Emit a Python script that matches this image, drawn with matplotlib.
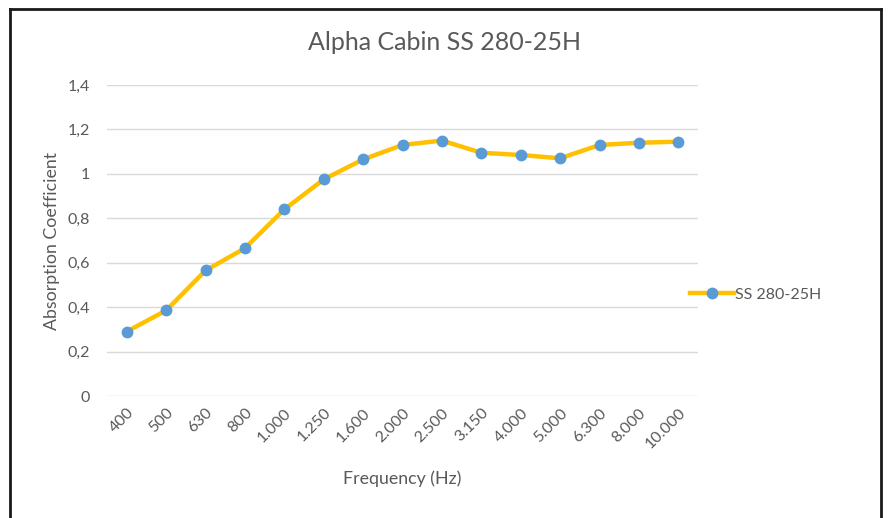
import matplotlib.pyplot as plt
from matplotlib.lines import Line2D
from matplotlib.ticker import FuncFormatter

# data
frequencies = ["400", "500", "630", "800", "1.000", "1.250", "1.600", "2.000",
               "2.500", "3.150", "4.000", "5.000", "6.300", "8.000", "10.000"]
absorption = [0.29, 0.385, 0.565, 0.665, 0.84, 0.975, 1.065, 1.13,
              1.15, 1.095, 1.085, 1.07, 1.13, 1.14, 1.145]
y_ticks = [0, 0.2, 0.4, 0.6, 0.8, 1.0, 1.2, 1.4]
series_name = "SS 280-25H"

plt.rcParams['font.family'] = ['Lato', 'DejaVu Sans']
text_grey = '#595959'

W, H = 889, 518
fig = plt.figure(figsize=(W / 100, H / 100), dpi=100)
ax = fig.add_axes([107 / W, 1 - 396 / H, (698 - 107) / W, (396 - 85) / H])

x = list(range(len(frequencies)))
ax.plot(x, absorption, color='#FFC000', linewidth=3.2, marker='o',
        markersize=7.5, markerfacecolor='#5B9BD5', markeredgecolor='#5B9BD5',
        solid_capstyle='round', zorder=3)

ax.set_xlim(-0.5, len(frequencies) - 0.5)
ax.set_ylim(0, 1.4)
ax.set_yticks(y_ticks)
ax.yaxis.set_major_formatter(FuncFormatter(
    lambda v, p: ('%g' % round(v, 1)).replace('.', ',')))
ax.set_xticks(x)
ax.set_xticklabels(frequencies, rotation=45, ha='right', rotation_mode='anchor')
ax.tick_params(axis='both', length=0, colors=text_grey, labelsize=11.5)
ax.tick_params(axis='x', pad=7)
ax.tick_params(axis='y', pad=12)
ax.grid(axis='y', color='#D9D9D9', linewidth=1)
ax.set_axisbelow(True)
for s in ax.spines.values():
    s.set_visible(False)

ax.set_ylabel('Absorption Coefficient', color=text_grey, fontsize=12.8, labelpad=6)
ax.set_xlabel('Frequency (Hz)', color=text_grey, fontsize=12.8, labelpad=14)
fig.text(445 / W, 1 - 42 / H, 'Alpha Cabin SS 280-25H', ha='center', va='center',
         fontsize=18, color=text_grey)

handle = Line2D([], [], color='#FFC000', linewidth=3.2, marker='o', markersize=7.5,
                markerfacecolor='#5B9BD5', markeredgecolor='#5B9BD5')
fig.legend([handle], [series_name], loc='center left',
           bbox_to_anchor=(676 / W, 1 - 295 / H), frameon=False, fontsize=11.5,
           labelcolor=text_grey, handlelength=2.7, handletextpad=0.1)

# chart frame
frame = dict(color='#1a1a1a', linewidth=2, transform=fig.transFigure)
fig.add_artist(Line2D([10 / W, 10 / W], [0, 1 - 9 / H], **frame))
fig.add_artist(Line2D([10 / W, 881 / W], [1 - 9 / H, 1 - 9 / H], **frame))
fig.add_artist(Line2D([881 / W, 881 / W], [0, 1 - 9 / H], **frame))

fig.savefig('out.png', dpi=100)
